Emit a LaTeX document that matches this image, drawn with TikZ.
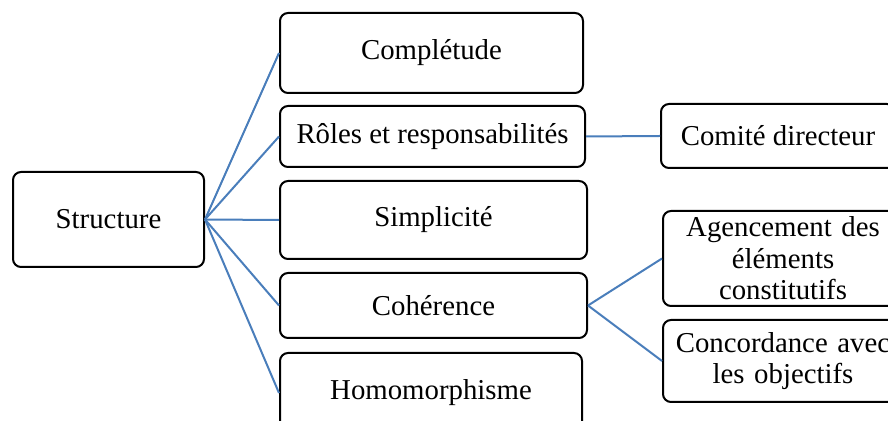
\documentclass[tikz,border=0pt]{standalone}
\usepackage{fontspec}
\setmainfont{Liberation Serif}
\definecolor{linkblue}{RGB}{74,126,187}

\begin{document}
\begin{tikzpicture}[x=0.5pt,y=-0.5pt,
  box/.style={draw,line width=1pt,rounded corners=4pt,align=center,inner sep=2pt,
    font=\fontsize{14.4}{15.8}\selectfont},
  link/.style={draw=linkblue,line width=1pt}]
\useasboundingbox (0,0) rectangle (888,421);
\clip (0,0) rectangle (888,421);
\node[box,minimum width=95.5pt,minimum height=47.5pt] (struct) at (108.5,219.5) {Structure};
\node[box,minimum width=151.5pt,minimum height=40pt] (complet) at (431.5,53) {Complétude};
\node[box,minimum width=152.5pt,minimum height=30.5pt] (roles) at (432.5,136.5) {Rôles et responsabilités};
\node[box,minimum width=153.5pt,minimum height=39pt] (simpl) at (433.5,220) {Simplicité};
\node[box,minimum width=153.5pt,minimum height=32.5pt] (coher) at (433.5,305.5) {Cohérence};
\node[box,minimum width=151pt,minimum height=40pt] (homo) at (431,393) {Homomorphisme};
\node[box,minimum width=117pt,minimum height=32pt] (comite) at (778,136) {Comité directeur};
\node[box,minimum width=120pt,minimum height=47.5pt,text width=112pt] (agenc) at (783,258.5) {Agencement des\\éléments\\constitutifs};
\node[box,minimum width=120pt,minimum height=41pt,text width=112pt] (concord) at (783,361) {Concordance avec\\les objectifs};
\draw[link] (struct.east) -- (complet.west);
\draw[link] (struct.east) -- (roles.west);
\draw[link] (struct.east) -- (simpl.west);
\draw[link] (struct.east) -- (coher.west);
\draw[link] (struct.east) -- (homo.west);
\draw[link] (roles.east) -- (comite.west);
\draw[link] (coher.east) -- (agenc.west);
\draw[link] (coher.east) -- (concord.west);
\end{tikzpicture}
\end{document}
